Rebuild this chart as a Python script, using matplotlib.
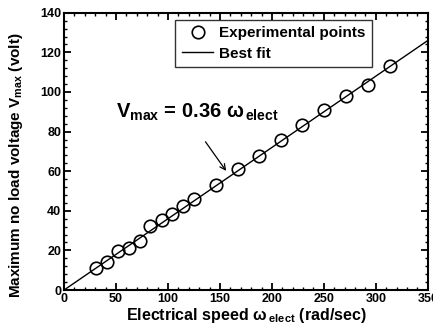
import numpy as np
import matplotlib
matplotlib.use('Agg')
import matplotlib.pyplot as plt
from matplotlib.ticker import MultipleLocator

plt.rcParams['font.family'] = ['Liberation Sans', 'DejaVu Sans']
plt.rcParams['font.weight'] = 'bold'
plt.rcParams['axes.labelweight'] = 'bold'
plt.rcParams['mathtext.fontset'] = 'custom'
plt.rcParams['mathtext.rm'] = 'Liberation Sans:bold'
plt.rcParams['mathtext.it'] = 'Liberation Sans:bold'
plt.rcParams['mathtext.bf'] = 'Liberation Sans:bold'

# measured points
speed = [30.7, 41, 51.5, 62, 73, 83, 94, 104, 114, 125, 146, 167, 188, 209, 229, 250, 271.5, 292, 314]
vmax = [11.3, 14.2, 19.6, 21.4, 24.5, 32.4, 35.1, 38.4, 42.2, 45.9, 53.1, 61.2, 67.8, 75.9, 83.5, 91.1, 98.1, 103.7, 113]
slope = 0.36
fit_x = [0, 350]

fig = plt.figure(figsize=(4.33, 3.32), dpi=100)
ax = fig.add_axes([0.148, 0.1265, 0.84, 0.835])

ax.plot(fit_x, [slope * v for v in fit_x], color='black', lw=1.0, label='Best fit')
ax.plot(speed, vmax, 'o', mfc='none', mec='black', ms=9, mew=1.2,
        label='Experimental points')

ax.set_xlim(0, 350)
ax.set_ylim(0, 140)
ax.xaxis.set_major_locator(MultipleLocator(50))
ax.xaxis.set_minor_locator(MultipleLocator(10))
ax.yaxis.set_major_locator(MultipleLocator(20))
ax.yaxis.set_minor_locator(MultipleLocator(4))
ax.tick_params(which='both', direction='in', top=True, right=True, labelsize=9, pad=2)
ax.tick_params(which='major', length=5, width=1.3)
ax.tick_params(which='minor', length=2.5, width=1.0)
for s in ax.spines.values():
    s.set_linewidth(1.5)

ax.set_xlabel(r'Electrical speed $\omega_{\;elect}$ (rad/sec)', fontsize=11.5, labelpad=1)
ax.set_ylabel(r'Maximum no load voltage V$_{max}$ (volt)', fontsize=11)
ax.yaxis.set_label_coords(-0.107, 0.45)

ax.annotate('', xy=(157.5, 59), xytext=(134.5, 76),
            arrowprops=dict(arrowstyle='->', color='black', lw=0.9))
ax.text(50, 87, r'V$_{max}$ = 0.36 $\omega_{\,elect}$', fontsize=14.5)

h, l = ax.get_legend_handles_labels()
leg = ax.legend(h[::-1], l[::-1], loc='upper right', bbox_to_anchor=(0.868, 1.003),
                fontsize=11, frameon=True, fancybox=False, edgecolor='black',
                borderpad=0.45, handlelength=2.0, labelspacing=0.4, handletextpad=0.4)
leg.get_frame().set_linewidth(1.0)

fig.savefig('out.png', dpi=100)
